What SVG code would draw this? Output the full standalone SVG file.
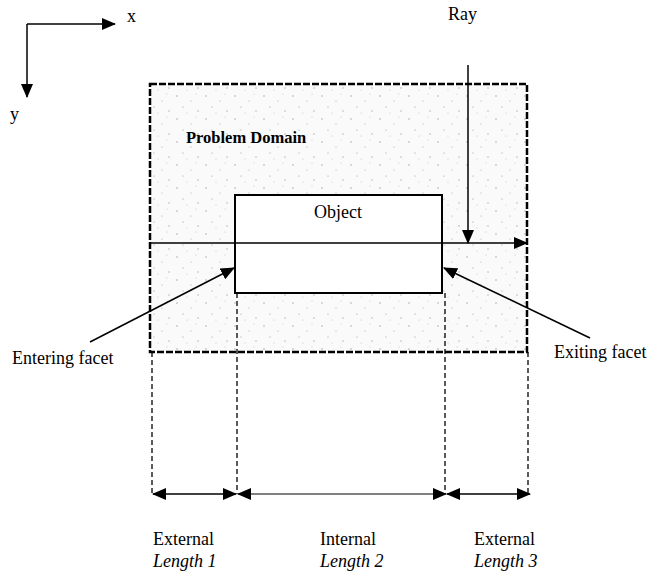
<svg xmlns="http://www.w3.org/2000/svg" width="663" height="573" viewBox="0 0 663 573">
<defs>
<marker id="ah" markerUnits="userSpaceOnUse" markerWidth="14" markerHeight="12" refX="13" refY="6" orient="auto-start-reverse">
<path d="M0,0 L14,6 L0,12 Z" fill="#000"/>
</marker>
<pattern id="dots" width="29" height="23" patternUnits="userSpaceOnUse">
<rect width="29" height="23" fill="#fafafa"/>
<circle cx="3" cy="4" r="0.7" fill="#999"/>
<circle cx="17" cy="9" r="0.6" fill="#aaa"/>
<circle cx="9" cy="15" r="0.6" fill="#999"/>
<circle cx="24" cy="19" r="0.7" fill="#aaa"/>
<circle cx="22" cy="2" r="0.5" fill="#bbb"/>
<circle cx="13" cy="21" r="0.5" fill="#bbb"/>
</pattern>
<style>
text{font-family:"Liberation Serif","Times New Roman",serif;font-size:18px;fill:#000}
.it{font-style:italic}
.ln{stroke:#000;stroke-width:1.5;fill:none}
.thin{stroke:#000;stroke-width:1;fill:none}
.dash{stroke:#000;stroke-width:1.3;stroke-dasharray:5 3;fill:none}
</style>
</defs>
<rect width="663" height="573" fill="#fff"/>
<g id="domain">
<rect x="150" y="84" width="377" height="268" fill="url(#dots)" stroke="#000" stroke-width="2.5" stroke-dasharray="7 2"/>
<text x="186" y="143" font-weight="bold" style="font-size:16.5px">Problem Domain</text>
</g>
<g id="object">
<rect x="235" y="195" width="207" height="98" fill="#fff" stroke="#000" stroke-width="2"/>
<text x="338" y="218" text-anchor="middle">Object</text>
</g>
<g id="axes">
<text x="127" y="22">x</text>
<text x="10" y="120">y</text>
</g>
<g id="labels">
<text x="448" y="20">Ray</text>
<text x="12" y="364">Entering facet</text>
<text x="554" y="358">Exiting facet</text>
<text x="153" y="545">External</text>
<text x="153" y="567" class="it">Length 1</text>
<text x="320" y="545">Internal</text>
<text x="320" y="567" class="it">Length 2</text>
<text x="474" y="545">External</text>
<text x="474" y="567" class="it">Length 3</text>
</g>
<g id="connectors">
<path class="ln" d="M27,24 L115,24" marker-end="url(#ah)"/>
<path class="ln" d="M27,24 L27,97" marker-end="url(#ah)"/>
<path class="ln" d="M468,65 L468,243" marker-end="url(#ah)"/>
<path class="ln" d="M150,243 L527,243" marker-end="url(#ah)"/>
<path class="ln" d="M90,342 L234,268" marker-end="url(#ah)"/>
<path class="ln" d="M590,338 L444,268" marker-end="url(#ah)"/>
<path class="dash" d="M152,352 L152,494 M237,293 L237,494 M445,293 L445,494 M528,352 L528,494"/>
<path class="ln" d="M153,494 L236,494" marker-start="url(#ah)" marker-end="url(#ah)"/>
<path class="thin" d="M238,494 L446,494" marker-start="url(#ah)" marker-end="url(#ah)"/>
<path class="ln" d="M447,494 L530,494" marker-start="url(#ah)" marker-end="url(#ah)"/>
</g>
</svg>
